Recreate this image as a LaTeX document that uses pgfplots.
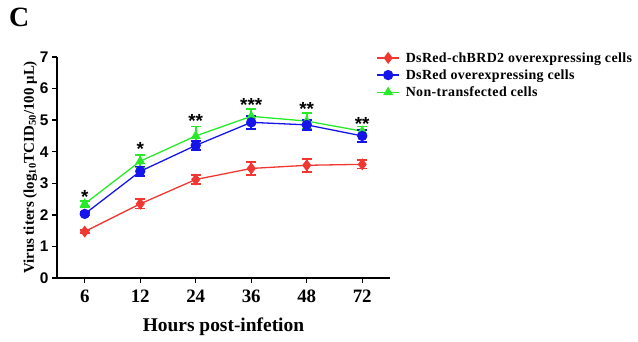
\documentclass[border=0pt]{standalone}
\usepackage{fontspec}
\setmainfont{Liberation Serif}
\newfontfamily\arial{Liberation Sans}
\usepackage{pgfplots}
\pgfplotsset{compat=1.18}
\definecolor{cred}{RGB}{240,55,50}
\definecolor{cblue}{RGB}{20,20,235}
\definecolor{cgreen}{RGB}{40,235,40}
\begin{document}
\begin{tikzpicture}
\useasboundingbox (0,0) rectangle (638bp,342bp);
\node[anchor=north west,font=\fontsize{28}{30}\selectfont\bfseries,inner sep=0pt] at (9bp,334bp) {C};
\begin{axis}[
  at={(57bp,64bp)}, anchor=south west,
  scale only axis, width=333bp, height=221bp,
  xmin=-0.5, xmax=5.5, ymin=0, ymax=7,
  axis lines=left, axis line style={line width=1.6pt,-},
  xtick={0,1,2,3,4,5}, xticklabels={6,12,24,36,48,72},
  ytick={0,1,2,3,4,5,6,7},
  tick align=outside, major tick length=5bp,
  tick style={line width=1.4pt,black},
  x tick label style={font=\fontsize{19}{21}\selectfont\bfseries, yshift=-3bp},
  y tick label style={font=\fontsize{15.5}{17}\selectfont\arial\bfseries},
  /pgf/number format/assume math mode=true,
  xlabel={Hours post-infetion},
  xlabel style={font=\fontsize{19.5}{21}\selectfont\bfseries, yshift=-9bp},
  ylabel={Virus titers (log\textsubscript{10}TCID\textsubscript{50}/100 μL)},
  ylabel style={font=\fontsize{15}{17}\selectfont\bfseries, yshift=-4bp},
  legend style={at={(axis description cs:0.95,1.04)}, anchor=north west, draw=none, fill=none,
    font=\fontsize{14}{16}\selectfont\bfseries\addfontfeatures{LetterSpace=2.5}, row sep=2bp,
    nodes={inner xsep=6bp}},
  legend image code/.code={\draw[mark repeat=2,mark phase=2] plot coordinates {(0bp,0bp) (11bp,0bp) (22bp,0bp)};},
  legend cell align=left,
  reverse legend,
  clip=false,
]
\addplot[cgreen, line width=1.3pt, mark=triangle*, mark size=4.5pt, mark options={solid},
  error bars/.cd, y dir=both, y explicit, error bar style={line width=1.8pt}, error mark options={rotate=90, mark size=5pt, line width=1.8pt}]
  coordinates {(0,2.35)+-(0,0.1) (1,3.7)+-(0,0.2) (2,4.5)+-(0,0.3) (3,5.12)+-(0,0.23) (4,4.97)+-(0,0.25) (5,4.65)+-(0,0.15)};
\addlegendentry{Non-transfected cells}
\addplot[cblue, line width=1.3pt, mark=*, mark size=4.5pt,
  error bars/.cd, y dir=both, y explicit, error bar style={line width=1.8pt}, error mark options={rotate=90, mark size=5pt, line width=1.8pt}]
  coordinates {(0,2.03)+-(0,0.05) (1,3.38)+-(0,0.15) (2,4.2)+-(0,0.15) (3,4.93)+-(0,0.2) (4,4.85)+-(0,0.15) (5,4.5)+-(0,0.2)};
\addlegendentry{DsRed overexpressing cells}
\addplot[cred, line width=1.3pt, mark=diamond*, mark size=5pt,
  error bars/.cd, y dir=both, y explicit, error bar style={line width=1.8pt}, error mark options={rotate=90, mark size=5pt, line width=1.8pt}]
  coordinates {(0,1.47)+-(0,0.05) (1,2.35)+-(0,0.15) (2,3.12)+-(0,0.15) (3,3.47)+-(0,0.2) (4,3.57)+-(0,0.2) (5,3.6)+-(0,0.13)};
\addlegendentry{DsRed-chBRD2 overexpressing cells}
\begin{scope}[every node/.style={font=\fontsize{19}{21}\selectfont\arial\bfseries, inner sep=0pt}]
\node at (axis cs:0,2.58) {*};
\node at (axis cs:1,4.08) {*};
\node at (axis cs:2,4.98) {**};
\node at (axis cs:3,5.48) {***};
\node at (axis cs:4,5.36) {**};
\node at (axis cs:5,4.89) {**};
\end{scope}
\end{axis}
\end{tikzpicture}
\end{document}
